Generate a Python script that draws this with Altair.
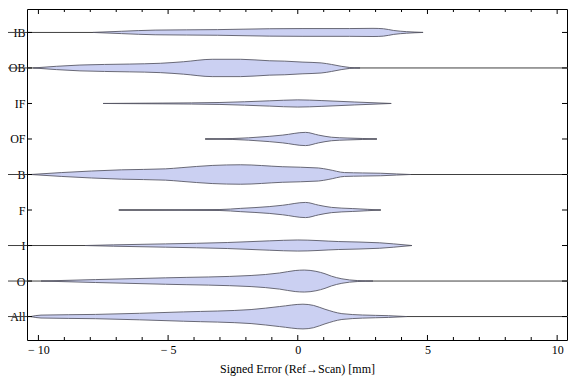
import altair as alt
import pandas as pd

categories = ["IB", "OB", "IF", "OF", "B", "F", "I", "O", "All"]

# violin outlines: x positions (mm) and half-widths (relative density, px at ref scale)
ib_x = [-7.9, -6.8, -5.5, -3.1, -1.1, 0.2, 2.0, 2.9, 3.3, 3.7, 4.2, 4.83]
ib_w = [0, 1.2, 2.4, 2.9, 3.8, 4.0, 4.0, 4.2, 3.8, 2.0, 0.8, 0]
ob_x = [-10.2, -8.4, -6.5, -5.3, -4.4, -3.3, -2.2, -1.1, -0.5, 0.2, 0.9, 1.3, 1.7, 2.0, 2.4]
ob_w = [0, 3.0, 4.0, 4.8, 6.4, 8.9, 8.9, 7.4, 7.0, 6.0, 5.2, 3.6, 1.6, 0.5, 0]
if_x = [-7.5, -5.2, -3.0, -1.1, 0.0, 0.9, 2.2, 3.6]
if_w = [0, 0.4, 1.0, 2.7, 3.7, 3.0, 1.5, 0]
of_x = [-3.57, -2.5, -1.9, -1.1, -0.58, 0.3, 0.8, 1.3, 1.9, 2.5, 3.05]
of_w = [0, 0.5, 1.2, 2.7, 4.0, 6.8, 4.0, 1.8, 1.0, 0.5, 0]
b_x = [-10.3, -9.1, -6.8, -5.1, -4.5, -3.3, -2.2, -0.6, 0.8, 1.2, 1.8, 2.5, 3.2, 3.8, 4.35]
b_w = [0, 2.0, 4.8, 5.8, 7.0, 9.3, 10.0, 8.0, 6.7, 5.0, 2.0, 1.6, 1.3, 0.6, 0]
f_x = [-6.9, -4.5, -3.0, -2.2, -1.1, -0.58, 0.3, 0.8, 1.3, 2.1, 2.7, 3.2]
f_w = [0, 0.2, 0.5, 1.7, 3.5, 4.9, 7.8, 5.0, 2.7, 1.5, 0.7, 0]
i_x = [-8.2, -7.1, -5.1, -2.7, -1.1, 0.0, 1.56, 3.16, 3.7, 4.4]
i_w = [0, 0.7, 1.7, 3.1, 4.8, 5.7, 4.1, 2.8, 1.7, 0]
o_x = [-9.9, -7.8, -5.1, -1.8, -0.7, -0.1, 0.25, 0.7, 1.05, 1.3, 1.7, 2.3, 2.9]
o_w = [0, 1.5, 3.3, 5.7, 8.3, 10.8, 11.3, 10.0, 7.5, 5.0, 2.3, 0.5, 0]
all_x = [-10.3, -9.9, -7.8, -4.4, -1.8, -0.7, 0.2, 0.6, 1.05, 1.7, 2.5, 3.5, 4.2]
all_w = [0, 1.5, 2.2, 4.8, 7.2, 10.3, 12.7, 11.5, 7.5, 3.0, 1.6, 0.9, 0]

# extent of each category's centre line (mm)
line_min = [-12, -12, -7.5, -3.57, -12, -6.9, -12, -12, -12]
line_max = [4.83, 12, 3.6, 3.05, 12, 3.2, 4.4, 12, 12]

x_major = [-10, -5, 0, 5, 10]
x_minor = [-9, -8, -7, -6, -4, -3, -2, -1, 1, 2, 3, 4, 6, 7, 8, 9]

STEP = 36.5  # reference px per category, to convert widths into category units

xs_all = [ib_x, ob_x, if_x, of_x, b_x, f_x, i_x, o_x, all_x]
ws_all = [ib_w, ob_w, if_w, of_w, b_w, f_w, i_w, o_w, all_w]

rows = []
for i, (c, xs, ws) in enumerate(zip(categories, xs_all, ws_all)):
    for x, w in zip(xs, ws):
        rows.append({"cat": c, "x": x, "lo": i - w / STEP, "hi": i + w / STEP})
vdf = pd.DataFrame(rows)

ldf = pd.DataFrame({"cat": categories, "pos": list(range(len(categories))),
                    "x1": line_min, "x2": line_max})

W, H = 540, 331
FONT = "Liberation Serif"
XTITLE = "Signed Error (Ref\u2192Scan) [mm]"

xscale = alt.Scale(domain=[-10.44, 10.38], nice=False, zero=False)
yscale = alt.Scale(domain=[-0.66, 8.66], reverse=True, nice=False, zero=False)

label_expr = "[" + ",".join("'%s'" % c for c in categories) + "][datum.value]"

xaxis = alt.Axis(values=x_major, ticks=False, domain=False, grid=False,
                 labelPadding=4, labelFont=FONT, labelFontSize=12, labelColor="black",
                 labelExpr="datum.value < 0 ? '\u2212 ' + abs(datum.value) : datum.label",
                 title=XTITLE, titleFont=FONT, titleFontSize=12,
                 titleFontWeight="normal", titleColor="black", titlePadding=8)
yaxis = alt.Axis(values=list(range(len(categories))), ticks=False, domain=False, grid=False,
                 labelPadding=2, labelFont=FONT, labelFontSize=12, labelColor="black",
                 labelExpr=label_expr, title="")

lines = alt.Chart(ldf).mark_rule(color="#404040", strokeWidth=1, clip=False).encode(
    x=alt.X("x1:Q", scale=xscale, axis=xaxis, title=XTITLE),
    x2="x2:Q",
    y=alt.Y("pos:Q", scale=yscale, axis=yaxis, title=""),
)

violins = alt.Chart(vdf).mark_area(
    orient="vertical", interpolate="monotone", fill="#CBD0F2", fillOpacity=1,
    stroke="#5a5a68", strokeWidth=0.9
).encode(
    x=alt.X("x:Q", scale=xscale, axis=xaxis, title=XTITLE),
    y=alt.Y("lo:Q", scale=yscale, axis=yaxis, title=""),
    y2="hi:Q",
    detail="cat:N",
)

maj_df = pd.DataFrame({"v": x_major})
min_df = pd.DataFrame({"v": x_minor})
cat_df = pd.DataFrame({"p": list(range(len(categories)))})

def xticks(df, y1, y2):
    return alt.Chart(df).mark_rule(color="black", strokeWidth=1).encode(
        x=alt.X("v:Q", scale=xscale, axis=xaxis, title=XTITLE),
        y=alt.value(y1), y2=alt.value(y2))

def yticks(x1, x2):
    return alt.Chart(cat_df).mark_rule(color="black", strokeWidth=1).encode(
        y=alt.Y("p:Q", scale=yscale, axis=yaxis, title=""),
        x=alt.value(x1), x2=alt.value(x2))

chart = alt.layer(
    lines, violins,
    xticks(maj_df, H - 5, H), xticks(min_df, H - 3, H),
    xticks(maj_df, 0, 5), xticks(min_df, 0, 3),
    yticks(0, 5), yticks(W - 5, W),
).properties(
    width=W, height=H,
    autosize=alt.AutoSizeParams(type="none"),
    padding={"left": 19, "top": 1, "right": 1, "bottom": 40},
    background="white",
).configure_view(stroke="black", strokeWidth=1)

chart.save("out.html", embed_options={"renderer": "svg", "actions": False})
